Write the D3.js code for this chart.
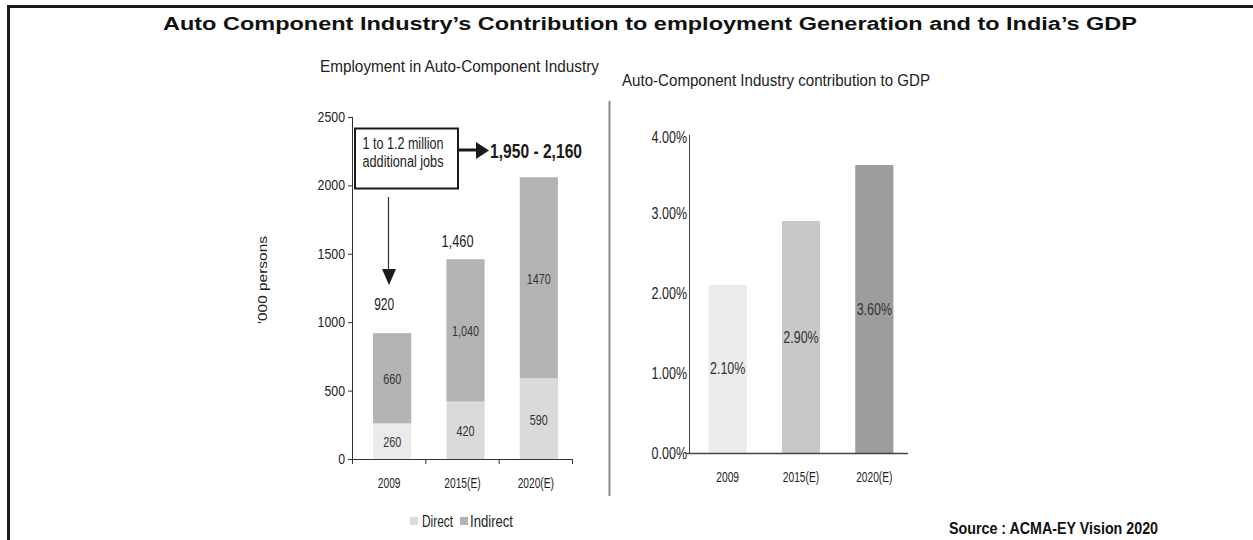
<!DOCTYPE html>
<html><head><meta charset="utf-8">
<script src="https://cdn.jsdelivr.net/npm/d3@7"></script>
<style>body{margin:0;background:#fff}svg{display:block}</style>
</head><body>
<script>
const years = ["2009", "2015(E)", "2020(E)"];
const direct = [260, 420, 590];
const indirect = [660, 1040, 1470];
const totalLabels = ["920", "1,460", ""];
const empTicks = [0, 500, 1000, 1500, 2000, 2500];
const gdpShare = [2.10, 2.90, 3.60];
const gdpTicks = [0, 1, 2, 3, 4];
const directColors = ["#ebebeb", "#dadada", "#dadada"];
const indirectColor = "#b3b3b3";
const gdpColors = ["#ebebeb", "#c8c8c8", "#9d9d9d"];

const W = 1253, H = 540;
const FONT = "'Liberation Sans',Arial,sans-serif";
const svg = d3.select("body").append("svg").attr("width", W).attr("height", H);

function condense(sel, factor) {
  sel.each(function () {
    const w = this.getComputedTextLength();
    d3.select(this).attr("textLength", w * factor).attr("lengthAdjust", "spacingAndGlyphs");
  });
  return sel;
}
function T(parent, x, y, str, o = {}) {
  const t = parent.append("text").attr("x", x).attr("y", y)
    .attr("font-family", o.family || FONT).attr("font-size", o.size || 15)
    .attr("font-weight", o.weight || "normal").attr("text-anchor", o.anchor || "start")
    .attr("fill", o.fill || "#222").text(str);
  if (o.transform) t.attr("transform", o.transform);
  if (o.width) t.attr("textLength", o.width).attr("lengthAdjust", "spacingAndGlyphs");
  else if (o.factor) condense(t, o.factor);
  return t;
}

// frame
svg.append("rect").attr("x", 7).attr("y", 5).attr("width", W).attr("height", 3).attr("fill", "#1a1a1a");
svg.append("rect").attr("x", 7).attr("y", 5).attr("width", 3).attr("height", H).attr("fill", "#1a1a1a");

T(svg, 650, 30, "Auto Component Industry\u2019s Contribution to employment Generation and to India\u2019s GDP",
  { size: 18, weight: "bold", anchor: "middle", width: 974, fill: "#111" });

// ---------- Left chart ----------
const lx = d3.scaleBand().domain(years).range([355.5, 575.5]).paddingInner(0.48).paddingOuter(0.24);
const ly = d3.scaleLinear().domain([0, 2500]).range([459, 117]);

T(svg, 320, 72, "Employment in Auto-Component Industry", { size: 16, width: 279 });

const gL = svg.append("g");
gL.append("g").attr("transform", "translate(352,0)")
  .call(d3.axisLeft(ly).tickValues(empTicks).tickSize(4).tickPadding(3).tickFormat(d3.format("d")))
  .call(g => g.select(".domain").attr("stroke", "#333").attr("d", "M0.5,117V459.5"))
  .call(g => g.selectAll("line").attr("stroke", "#333"))
  .call(g => condense(g.selectAll("text").attr("font-family", FONT).attr("font-size", 14).attr("fill", "#222"), 0.88));

const xAxisL = d3.scaleLinear().domain([0, 3]).range([352, 572]);
gL.append("g").attr("transform", "translate(0,459)")
  .call(d3.axisBottom(xAxisL).tickValues([0, 1, 2, 3]).tickSize(5).tickFormat(""))
  .call(g => g.select(".domain").attr("stroke", "#333").attr("d", "M352,0.5H572"))
  .call(g => g.selectAll("line").attr("stroke", "#333"));

years.forEach((d, i) => {
  const cx = lx(d) + lx.bandwidth() / 2;
  T(gL, cx - 3, 488, d, { size: 15, anchor: "middle", factor: 0.68 });
});

// bars
gL.selectAll(".dir").data(years).join("rect")
  .attr("x", d => lx(d)).attr("width", lx.bandwidth())
  .attr("y", (d, i) => ly(direct[i])).attr("height", (d, i) => ly(0) - ly(direct[i]))
  .attr("fill", (d, i) => directColors[i]);
gL.selectAll(".ind").data(years).join("rect")
  .attr("x", d => lx(d)).attr("width", lx.bandwidth())
  .attr("y", (d, i) => ly(direct[i] + indirect[i]))
  .attr("height", (d, i) => ly(direct[i]) - ly(direct[i] + indirect[i]))
  .attr("fill", indirectColor);

const fmtK = (v) => v >= 1000 && v < 1400 ? d3.format(",")(v) : String(v);
years.forEach((d, i) => {
  const cx = lx(d) + lx.bandwidth() / 2;
  T(gL, cx, ly(direct[i] / 2) + 6, String(direct[i]), { size: 15, anchor: "middle", factor: 0.72, fill: "#333" });
  T(gL, cx, ly(direct[i] + indirect[i] / 2) + 6, fmtK(indirect[i]), { size: 15, anchor: "middle", factor: 0.72, fill: "#333" });
  if (totalLabels[i]) {
    const top = ly(direct[i] + indirect[i]);
    T(gL, cx - 8, top - (i === 0 ? 23 : 12), totalLabels[i], { size: 16, anchor: "middle", factor: i === 0 ? 0.75 : 0.8 });
  }
});

// y title
T(svg, 0, 0, "'000 persons", { size: 13, anchor: "middle", width: 88, transform: "translate(267,280) rotate(-90)" });

// annotation box
svg.append("rect").attr("x", 355).attr("y", 128.5).attr("width", 103).attr("height", 60)
  .attr("fill", "#fff").attr("stroke", "#1a1a1a").attr("stroke-width", 2);
T(svg, 403, 149, "1 to 1.2 million", { size: 16, anchor: "middle", width: 81 });
T(svg, 403, 167, "additional jobs", { size: 16, anchor: "middle", width: 81 });
svg.append("line").attr("x1", 459).attr("x2", 477).attr("y1", 150).attr("y2", 150)
  .attr("stroke", "#1a1a1a").attr("stroke-width", 3);
svg.append("path").attr("d", "M476,142L489,150.5L476,159Z").attr("fill", "#1a1a1a");
T(svg, 490, 158, "1,950 - 2,160", { size: 20, weight: "bold", width: 92, fill: "#1a1a1a" });
svg.append("line").attr("x1", 388.5).attr("x2", 388.5).attr("y1", 197).attr("y2", 270)
  .attr("stroke", "#333").attr("stroke-width", 1.2);
svg.append("path").attr("d", "M382,269L396,269L389,285Z").attr("fill", "#1a1a1a");

// legend
svg.append("rect").attr("x", 410).attr("y", 517).attr("width", 8).attr("height", 8).attr("fill", "#dadada");
T(svg, 422, 527, "Direct", { size: 16, width: 31 });
svg.append("rect").attr("x", 460).attr("y", 517).attr("width", 8).attr("height", 8).attr("fill", indirectColor);
T(svg, 470, 527, "Indirect", { size: 16, width: 43 });

// divider
svg.append("line").attr("x1", 609.5).attr("x2", 609.5).attr("y1", 101).attr("y2", 496)
  .attr("stroke", "#8a8a8a").attr("stroke-width", 2);

// ---------- Right chart ----------
T(svg, 622, 86, "Auto-Component Industry contribution to GDP", { size: 17, width: 308 });

const rx = d3.scaleBand().domain(years).range([691, 911]).paddingInner(0.48).paddingOuter(0.24);
const ry = d3.scaleLinear().domain([0, 4]).range([453, 133]);
const gR = svg.append("g");
gR.append("g").attr("transform", "translate(689,0)")
  .call(d3.axisLeft(ry).tickValues(gdpTicks).tickSize(0).tickPadding(2).tickFormat(d => d3.format(".2f")(d) + "%"))
  .call(g => g.select(".domain").attr("stroke", "#444").attr("d", "M0.5,135V453"))
  .call(g => g.selectAll(".tick text").attr("dy", (d) => d === 4 ? "0.6em" : "0.32em"))
  .call(g => condense(g.selectAll("text").attr("font-family", FONT).attr("font-size", 16).attr("fill", "#222"), 0.78));
gR.selectAll(".gb").data(years).join("rect")
  .attr("x", d => rx(d)).attr("width", rx.bandwidth())
  .attr("y", (d, i) => ry(gdpShare[i])).attr("height", (d, i) => ry(0) - ry(gdpShare[i]))
  .attr("fill", (d, i) => gdpColors[i]);
gR.append("line").attr("x1", 686).attr("x2", 908).attr("y1", 453.5).attr("y2", 453.5)
  .attr("stroke", "#444").attr("stroke-width", 1.3);
const gdpLabelY = [374, 343, 315];
years.forEach((d, i) => {
  const cx = rx(d) + rx.bandwidth() / 2;
  T(gR, cx, gdpLabelY[i], d3.format(".2f")(gdpShare[i]) + "%", { size: 16, anchor: "middle", factor: 0.78, fill: "#333" });
  T(gR, cx, 482, d, { size: 15, anchor: "middle", factor: 0.68 });
});

T(svg, 949, 534, "Source : ACMA-EY Vision 2020", { size: 16, weight: "bold", width: 209, fill: "#111" });
</script>
</body></html>
